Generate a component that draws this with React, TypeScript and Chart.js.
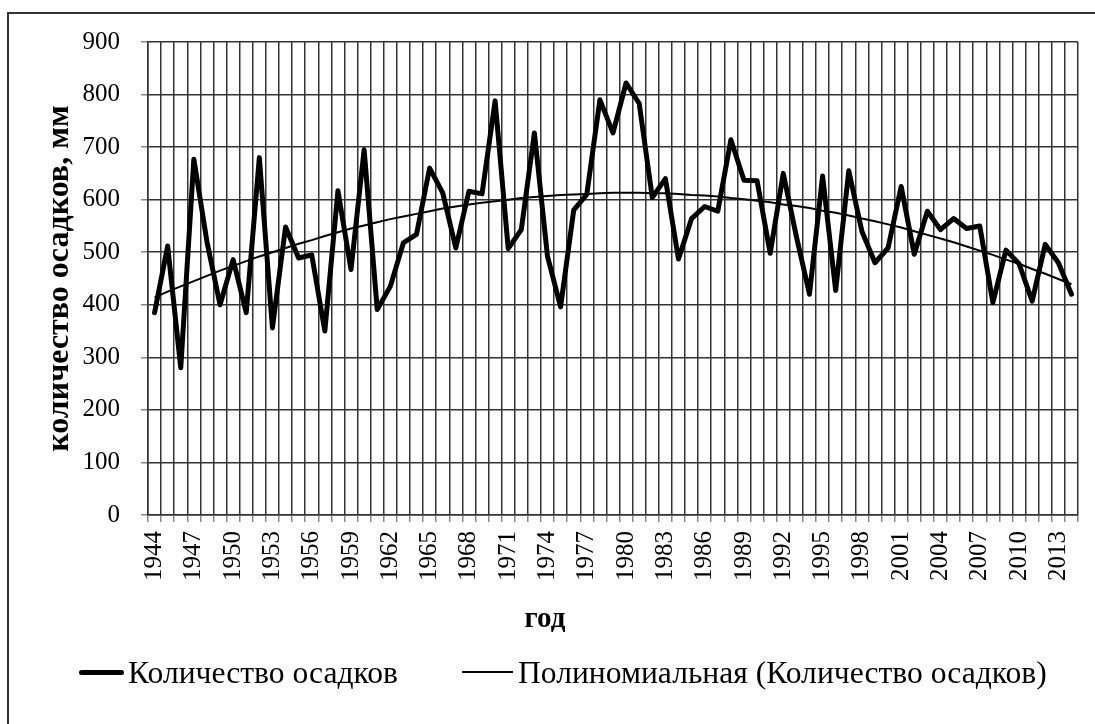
import React, { useEffect, useRef } from 'react';
import { Chart, registerables } from 'chart.js';

Chart.register(...registerables);

const years = [
  '1944', '1945', '1946', '1947', '1948', '1949', '1950', '1951', '1952', '1953',
  '1954', '1955', '1956', '1957', '1958', '1959', '1960', '1961', '1962', '1963',
  '1964', '1965', '1966', '1967', '1968', '1969', '1970', '1971', '1972', '1973',
  '1974', '1975', '1976', '1977', '1978', '1979', '1980', '1981', '1982', '1983',
  '1984', '1985', '1986', '1987', '1988', '1989', '1990', '1991', '1992', '1993',
  '1994', '1995', '1996', '1997', '1998', '1999', '2000', '2001', '2002', '2003',
  '2004', '2005', '2006', '2007', '2008', '2009', '2010', '2011', '2012', '2013',
  '2014',
];

const precipitation = [
  385, 512, 280, 677, 520, 400, 486, 385, 680, 356,
  548, 489, 495, 350, 617, 467, 695, 391, 435, 518,
  534, 660, 613, 508, 616, 611, 788, 507, 543, 727,
  492, 396, 580, 610, 790, 727, 822, 783, 604, 640,
  487, 564, 587, 578, 714, 637, 636, 498, 650, 530,
  420, 645, 427, 655, 540, 480, 508, 625, 496, 578,
  543, 564, 545, 550, 404, 504, 478, 407, 515, 480,
  420,
];

const polynomialTrend = [
  414, 425, 435, 445, 455, 465, 474, 483, 492, 500,
  508, 516, 523, 531, 538, 545, 551, 557, 563, 568,
  573, 578, 583, 587, 591, 594, 597, 600, 603, 605,
  607, 609, 610, 611, 612, 613, 613, 613, 612, 612,
  611, 609, 608, 606, 603, 601, 598, 595, 591, 588,
  584, 579, 575, 570, 564, 559, 553, 547, 540, 533,
  526, 519, 511, 503, 495, 486, 478, 468, 459, 449,
  439,
];

const xTickLabels = [
  '1944', '1947', '1950', '1953', '1956', '1959', '1962', '1965', '1968', '1971',
  '1974', '1977', '1980', '1983', '1986', '1989', '1992', '1995', '1998', '2001',
  '2004', '2007', '2010', '2013',
];

const seriesName = 'Количество осадков';
const trendName = 'Полиномиальная (Количество осадков)';
const yTitle = 'количество осадков, мм';
const xTitle = 'год';

const SERIF = '"Liberation Serif", "Times New Roman", serif';

export default function App() {
  const ref = useRef<HTMLCanvasElement>(null);

  useEffect(() => {
    const canvas = ref.current;
    if (!canvas) return;
    Chart.defaults.font.family = SERIF;
    Chart.defaults.color = '#000';
    const gridColor = '#333333';
    const chart = new Chart(canvas, {
      type: 'line',
      data: {
        labels: years,
        datasets: [
          {
            label: seriesName,
            data: precipitation,
            borderColor: '#000',
            backgroundColor: '#000',
            borderWidth: 5,
            pointRadius: 0,
            tension: 0,
            borderJoinStyle: 'round',
            borderCapStyle: 'round',
            order: 2,
          },
          {
            label: trendName,
            data: polynomialTrend,
            borderColor: '#000',
            backgroundColor: '#000',
            borderWidth: 2,
            pointRadius: 0,
            tension: 0,
            order: 1,
          },
        ],
      },
      options: {
        responsive: false,
        animation: false,
        devicePixelRatio: 1,
        layout: { padding: { top: 42, right: 17, bottom: 0, left: 0 } },
        plugins: {
          legend: { display: false },
          tooltip: { enabled: false },
        },
        scales: {
          x: {
            offset: true,
            grid: {
              offset: true,
              color: gridColor,
              lineWidth: 1.5,
              drawTicks: true,
              tickLength: 7,
              tickColor: '#888',
            },
            border: { color: gridColor, width: 1.5 },
            ticks: {
              autoSkip: false,
              maxRotation: 90,
              minRotation: 90,
              padding: 9,
              color: '#000',
              font: { size: 25, family: SERIF },
              callback: (_v: any, i: number) => (xTickLabels.includes(years[i]) ? years[i] : ''),
            },
            afterFit: (s: any) => {
              s.height = 209;
              s.paddingLeft = 0;
              s.paddingRight = 0;
            },
          },
          y: {
            min: 0,
            max: 900,
            grid: {
              color: gridColor,
              lineWidth: 1.5,
              drawTicks: true,
              tickLength: 7,
              tickColor: '#888',
            },
            border: { color: gridColor, width: 1.5 },
            ticks: {
              stepSize: 100,
              padding: 21,
              color: '#000',
              font: { size: 25, family: SERIF },
            },
            title: {
              display: true,
              text: yTitle,
              color: '#000',
              font: { size: 32, weight: 'bold', family: SERIF },
              padding: { top: 41, bottom: 0 },
            },
            afterFit: (s: any) => {
              s.width = 148;
            },
          },
        },
      },
    } as any);
    return () => chart.destroy();
  }, []);

  const textBase: React.CSSProperties = {
    position: 'absolute',
    fontFamily: SERIF,
    color: '#000',
    whiteSpace: 'nowrap',
  };

  return (
    <div style={{ position: 'absolute', left: 0, top: 0, width: 1095, height: 724, overflow: 'hidden', background: '#fff' }}>
      <canvas ref={ref} width={1095} height={724} style={{ position: 'absolute', left: 0, top: 0, width: 1095, height: 724 }} />
      <div
        style={{
          position: 'absolute',
          left: 7,
          top: 12,
          width: 1088,
          height: 712,
          borderLeft: '2px solid #333',
          borderTop: '2px solid #333',
          boxSizing: 'border-box',
          pointerEvents: 'none',
        }}
      />
      <div
        style={{
          ...textBase,
          left: 495,
          width: 100,
          top: 603,
          textAlign: 'center',
          fontSize: 29,
          lineHeight: '29px',
          fontWeight: 'bold',
        }}
      >
        {xTitle}
      </div>
      <div style={{ position: 'absolute', left: 79, top: 669.5, width: 45, height: 5, background: '#000', borderRadius: 2.5 }} />
      <div style={{ ...textBase, left: 128, top: 657, fontSize: 31.6, lineHeight: '31px' }}>{seriesName}</div>
      <div style={{ position: 'absolute', left: 462, top: 671, width: 51, height: 2, background: '#000' }} />
      <div style={{ ...textBase, left: 518, top: 657, fontSize: 31.6, lineHeight: '31px' }}>{trendName}</div>
    </div>
  );
}
